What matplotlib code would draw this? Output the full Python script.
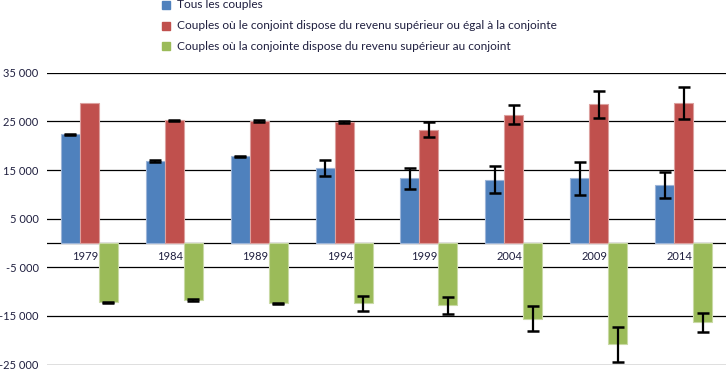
import matplotlib
matplotlib.use("Agg")
import matplotlib.pyplot as plt
import numpy as np
from matplotlib.patches import Rectangle

years = ["1979", "1984", "1989", "1994", "1999", "2004", "2009", "2014"]
tous = [22300, 16900, 17800, 15400, 13300, 13050, 13300, 11950]
tous_err = [150, 150, 150, 1600, 2100, 2800, 3400, 2650]
conjoint = [28800, 25200, 25100, 24900, 23300, 26400, 28500, 28800]
conjoint_err = [0, 120, 150, 150, 1600, 2000, 2750, 3350]
conjointe = [-12200, -11700, -12400, -12400, -12800, -15600, -20800, -16250]
conjointe_err = [150, 150, 150, 1600, 1800, 2550, 3600, 1950]

labels = ["Tous les couples",
          "Couples où le conjoint dispose du revenu supérieur ou égal à la conjointe",
          "Couples où la conjointe dispose du revenu supérieur au conjoint"]
colors = ["#4F81BD", "#C0504D", "#9BBB59"]
edges = ["#9DB5D8", "#DCA09E", "#C9DAA5"]
yticks = [-25000, -15000, -5000, 5000, 15000, 25000, 35000]

plt.rcParams['font.family'] = ['Lato', 'DejaVu Sans']
txtcol = "#1F1F3F"

fig = plt.figure(figsize=(7.26, 3.70), dpi=100)
ax = fig.add_axes([0.0647, 0.0145, 0.9353, 0.789])

x = np.arange(len(years))
w = 0.224
series = [(tous, tous_err), (conjoint, conjoint_err), (conjointe, conjointe_err)]
for k, (vals, errs) in enumerate(series):
    pos = x + (k - 1) * w
    ax.bar(pos, vals, width=w, color=colors[k], edgecolor=edges[k], linewidth=0.8, zorder=2)
    v = np.array(vals, dtype=float)
    e = np.array(errs, dtype=float)
    m = e > 0
    ax.errorbar(pos[m], v[m], yerr=e[m], fmt='none', ecolor='black', elinewidth=1.6,
                capsize=4.5, capthick=1.8, zorder=3)

ax.set_xlim(-0.5, len(years) - 0.5)
ax.set_ylim(-25000, 35000)
ax.set_yticks(yticks)
ax.set_yticklabels([f"{v:,}".replace(",", " ") for v in yticks])
ax.tick_params(axis='y', length=0, pad=6, labelsize=8, labelcolor=txtcol)
ax.set_xticks([])
for gy in yticks + [0]:
    ax.axhline(gy, color='black', linewidth=0.9, zorder=1)
for s in ax.spines.values():
    s.set_visible(False)

for i, yr in enumerate(years):
    ax.text(i - 0.05, -1700, yr, ha='center', va='top', fontsize=8, color=txtcol, zorder=1)

# legend
for k, lab in enumerate(labels):
    yy = 370 - (5 + 20.5 * k)
    fig.patches.append(Rectangle((162 / 726, (yy - 4) / 370), 8 / 726, 8 / 370,
                                 transform=fig.transFigure, color=colors[k]))
    fig.text(177 / 726, yy / 370, lab, ha='left', va='center', fontsize=8.6, color=txtcol)

fig.savefig("out.png", dpi=100)
